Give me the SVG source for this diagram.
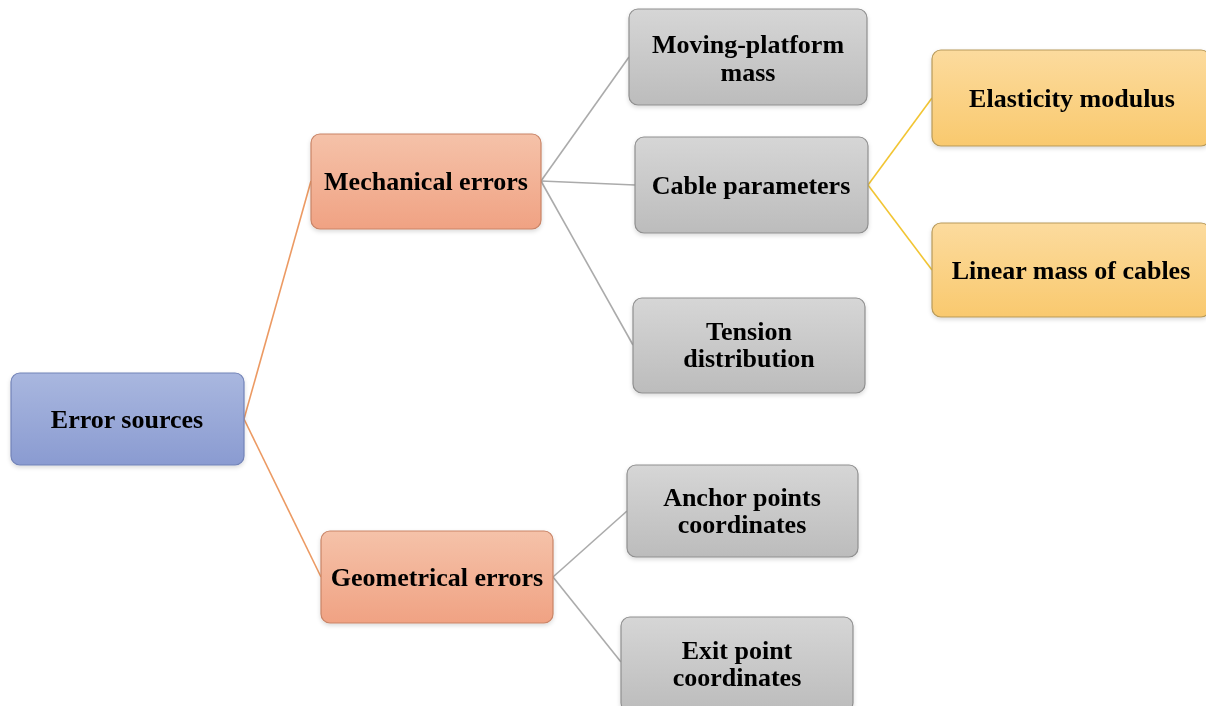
<svg xmlns="http://www.w3.org/2000/svg" width="1206" height="706" viewBox="0 0 1206 706">
<style>
.n{stroke-width:1.2}
.t{font-family:"Liberation Serif","Times New Roman",serif;font-weight:bold;font-size:26px;fill:#000;text-anchor:middle}
.c{fill:none;stroke-width:1.6}
</style>
<defs>
<linearGradient id="gb" x1="0" y1="0" x2="0" y2="1"><stop offset="0" stop-color="#a9b7df"/><stop offset="1" stop-color="#8a9bd1"/></linearGradient>
<linearGradient id="go" x1="0" y1="0" x2="0" y2="1"><stop offset="0" stop-color="#f5c2a9"/><stop offset="1" stop-color="#f0a283"/></linearGradient>
<linearGradient id="gg" x1="0" y1="0" x2="0" y2="1"><stop offset="0" stop-color="#d6d6d6"/><stop offset="1" stop-color="#bcbcbc"/></linearGradient>
<linearGradient id="gy" x1="0" y1="0" x2="0" y2="1"><stop offset="0" stop-color="#fcdb9e"/><stop offset="1" stop-color="#f9c96e"/></linearGradient>
<filter id="sh" x="-10%" y="-10%" width="120%" height="130%"><feDropShadow dx="0" dy="2" stdDeviation="2" flood-color="#000" flood-opacity="0.15"/></filter>
</defs>
<rect width="1206" height="706" fill="#fff"/>
<g id="connectors">
<line class="c" stroke="#ec9a63" x1="244" y1="419" x2="311" y2="181"/>
<line class="c" stroke="#ec9a63" x1="244" y1="419" x2="321" y2="577"/>
<line class="c" stroke="#ababab" x1="541" y1="181" x2="629" y2="57"/>
<line class="c" stroke="#ababab" x1="541" y1="181" x2="635" y2="185"/>
<line class="c" stroke="#ababab" x1="541" y1="181" x2="633" y2="345"/>
<line class="c" stroke="#f2c533" x1="868" y1="185" x2="932" y2="98"/>
<line class="c" stroke="#f2c533" x1="868" y1="185" x2="932" y2="270"/>
<line class="c" stroke="#ababab" x1="553" y1="577" x2="627" y2="511"/>
<line class="c" stroke="#ababab" x1="553" y1="577" x2="621" y2="662"/>
</g>
<g id="error-sources" filter="url(#sh)"><rect class="n" x="11" y="373" width="233" height="92" rx="9" fill="url(#gb)" stroke="#7283b8"/><text class="t" x="127" y="428">Error sources</text></g>
<g id="mechanical-errors" filter="url(#sh)"><rect class="n" x="311" y="134" width="230" height="95" rx="9" fill="url(#go)" stroke="#c98466"/><text class="t" x="426" y="190">Mechanical errors</text></g>
<g id="geometrical-errors" filter="url(#sh)"><rect class="n" x="321" y="531" width="232" height="92" rx="9" fill="url(#go)" stroke="#c98466"/><text class="t" x="437" y="586">Geometrical errors</text></g>
<g id="moving-platform-mass" filter="url(#sh)"><rect class="n" x="629" y="9" width="238" height="96" rx="9" fill="url(#gg)" stroke="#8f8f8f"/><text class="t" x="748" y="53">Moving-platform</text><text class="t" x="748" y="81">mass</text></g>
<g id="cable-parameters" filter="url(#sh)"><rect class="n" x="635" y="137" width="233" height="96" rx="9" fill="url(#gg)" stroke="#8f8f8f"/><text class="t" x="751" y="194">Cable parameters</text></g>
<g id="tension-distribution" filter="url(#sh)"><rect class="n" x="633" y="298" width="232" height="95" rx="9" fill="url(#gg)" stroke="#8f8f8f"/><text class="t" x="749" y="340">Tension</text><text class="t" x="749" y="367">distribution</text></g>
<g id="elasticity-modulus" filter="url(#sh)"><rect class="n" x="932" y="50" width="278" height="96" rx="9" fill="url(#gy)" stroke="#b89a5a"/><text class="t" x="1072" y="107">Elasticity modulus</text></g>
<g id="linear-mass" filter="url(#sh)"><rect class="n" x="932" y="223" width="278" height="94" rx="9" fill="url(#gy)" stroke="#b89a5a"/><text class="t" x="1071" y="279">Linear mass of cables</text></g>
<g id="anchor-points" filter="url(#sh)"><rect class="n" x="627" y="465" width="231" height="92" rx="9" fill="url(#gg)" stroke="#8f8f8f"/><text class="t" x="742" y="506">Anchor points</text><text class="t" x="742" y="533">coordinates</text></g>
<g id="exit-point" filter="url(#sh)"><rect class="n" x="621" y="617" width="232" height="95" rx="9" fill="url(#gg)" stroke="#8f8f8f"/><text class="t" x="737" y="659">Exit point</text><text class="t" x="737" y="686">coordinates</text></g>
</svg>
